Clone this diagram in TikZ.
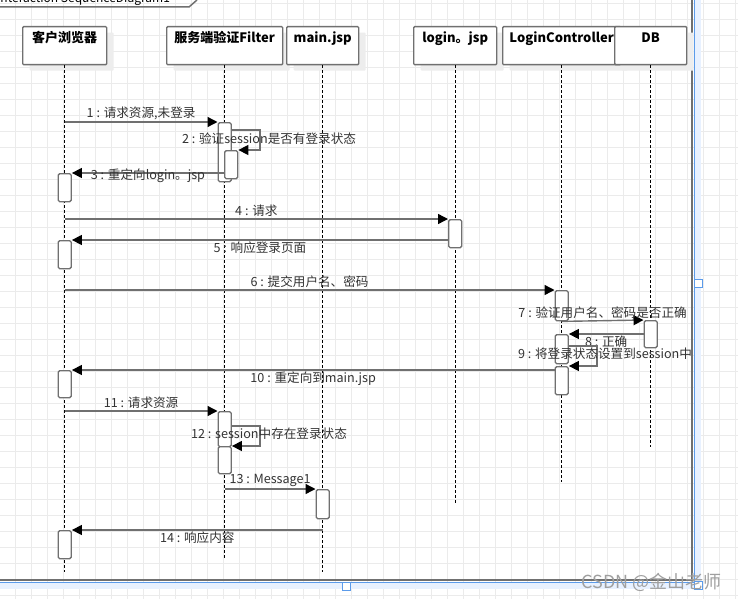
\documentclass[tikz,border=0pt]{standalone}
\usepackage{fontspec}
\setmainfont{Noto Sans CJK SC}
\usetikzlibrary{arrows.meta,shadows}

\definecolor{gridgray}{HTML}{EBEBEB}
\definecolor{boxgray}{HTML}{707070}
\definecolor{labelgray}{HTML}{333333}
\definecolor{selblue}{HTML}{E8F1FF}
\definecolor{handleblue}{HTML}{5B9BEA}

\tikzset{
  obj/.style={draw=boxgray, fill=white, line width=1.4pt, rounded corners=1pt,
    minimum width=#1, anchor=north west, inner sep=0pt,
    text height=16pt, text depth=22pt, font=\bfseries\fontsize{13}{13}\selectfont,
    drop shadow={shadow xshift=7pt, shadow yshift=-6pt, fill=black!7, opacity=1}},
  lifeline/.style={black, line width=0.9pt, dash pattern=on 3pt off 2pt},
  act/.style={draw=boxgray, fill=white, line width=1.4pt, rounded corners=1.5pt,
    minimum width=13pt, minimum height=#1, anchor=north, inner sep=0pt},
  msg/.style={draw=boxgray, line width=1.4pt,
    -{Triangle[length=10pt,width=10pt,color=black]}},
  lbl/.style={text=labelgray, font=\fontsize{12.6}{14}\selectfont, inner sep=1.5pt},
}

\begin{document}
\begin{tikzpicture}[x=1pt, y=-1pt]
		\useasboundingbox (0,0) rectangle (738,599);
		\clip (0,0) rectangle (738,599);
	
		% Draw the grid
		\fill[white] (0,0) rectangle (738,599);
		\draw[gridgray, line width=0.8pt] \foreach \x in {15,31,...,735} {(\x,0) -- (\x,599)};
		\draw[gridgray, line width=0.8pt] \foreach \y in {3,19,...,599} {(0,\y) -- (738,\y)};
	
		% Draw the frame of the interaction
		\fill[selblue] (694,0) rectangle (701,589);
		\fill[selblue] (0,582) rectangle (701,589);
		\draw[handleblue, line width=0.8pt] (694,0) -- (694,582) -- (0,582);
		\draw[boxgray, line width=2.2pt] (692,0) -- (692,580) -- (0,580);
		\draw[boxgray, line width=1.5pt] (0,7) -- (189,7) -- (197,0);
		\node[anchor=base west, font=\fontsize{12}{14}\selectfont, inner sep=0pt] (frametitle) at (-3,3) {interaction SequenceDiagram1};
	
		% Draw the objects
		\node[obj=84pt] (client) at (22,26) {客户浏览器};
		\node[obj=116pt] (filter) at (166,26) {服务端验证Filter};
		\node[obj=72pt] (mainjsp) at (286,26) {main.jsp};
		\node[obj=83pt] (login) at (413,26) {login。jsp};
		\node[obj=118pt] (ctrl) at (502,26) {LoginController};
		\node[obj=72pt] (db) at (614,26) {DB};
	
		% Draw the lifelines
		\foreach \n/\e in {client/572, filter/560, mainjsp/572, login/505, ctrl/482, db/447}
			\draw[lifeline] (\n.south) -- (\n.south |- 0,\e);
	
		% Draw the activations
		\node[act=59pt] (fa1) at (filter.south |- 0,122) {};
		\node[act=28pt, xshift=6.5pt] (fa2) at (filter.south |- 0,150) {};
		\node[act=28pt] (cl1) at (client.south |- 0,173) {};
		\node[act=28pt] (la1) at (login.south |- 0,219) {};
		\node[act=28pt] (cl2) at (client.south |- 0,240) {};
		\node[act=30pt] (ka1) at (ctrl.south |- 0,290) {};
		\node[act=27pt] (da1) at (db.south |- 0,320) {};
		\node[act=29pt] (ka2) at (ctrl.south |- 0,334) {};
		\node[act=28pt] (ka3) at (ctrl.south |- 0,366) {};
		\node[act=27pt] (cl3) at (client.south |- 0,370) {};
		\node[act=35pt] (fa3) at (filter.south |- 0,411) {};
		\node[act=27pt] (fa4) at (filter.south |- 0,446) {};
		\node[act=29pt] (ma1) at (mainjsp.south |- 0,489) {};
		\node[act=28pt] (cl4) at (client.south |- 0,530) {};
	
		% Turning points of the self messages
		\coordinate (turn2) at (260,130);
		\coordinate (turn9) at (597,346);
		\coordinate (turn12) at (260,426);
	
		% Draw the messages
		\draw[msg] (client.south |- fa1.north) -- node[lbl, above] {1 : 请求资源,未登录} (fa1.north west);
		\draw[msg] (fa1.east |- turn2) -- (turn2) |- (fa2.north east);
		\draw[msg] (fa2.west |- cl1.north) -- node[lbl, yshift=-3pt] {3 : 重定向login。jsp} (cl1.north east);
		\draw[msg] (client.south |- la1.north) -- node[lbl, above] {4 : 请求} (la1.north west);
		\draw[msg] (la1.west |- cl2.north) -- node[lbl, below] {5 : 响应登录页面} (cl2.north east);
		\draw[msg] (client.south |- ka1.north) -- node[lbl, above] {6 : 提交用户名、密码} (ka1.north west);
		\draw[msg] (ka1.south) -- node[lbl, above] {7 : 验证用户名、密码是否正确} (da1.north west);
		\draw[msg] (da1.west |- ka2.north) -- node[lbl, below] {8 : 正确} (ka2.north east);
		\draw[msg] (ka2.east |- turn9) -- (turn9) |- (ka3.north east);
		\draw[msg] (ka3.west |- cl3.north) -- node[lbl, below] {10 : 重定向到main.jsp} (cl3.north east);
		\draw[msg] (client.south |- fa3.north) -- node[lbl, above] {11 : 请求资源} (fa3.north west);
		\draw[msg] (fa3.east |- turn12) -- (turn12) |- (fa4.north east);
		\draw[msg] (filter.south |- ma1.north) -- node[lbl, above] {13 : Message1} (ma1.north west);
		\draw[msg] (mainjsp.south |- cl4.north) -- node[lbl, below] {14 : 响应内容} (cl4.north east);
	
		% Labels of the self messages
		\node[lbl] (note2) at (269,139) {2 : 验证session是否有登录状态};
		\node[lbl] (note9) at (605,354) {9 : 将登录状态设置到session中};
		\node[lbl] (note12) at (269,434) {12 : session中存在登录状态};
	
		% Draw the handles and the watermark
		\foreach \hx/\hy in {694/279, 342/582, 694/581}
			\draw[handleblue, fill=white, line width=0.8pt] (\hx,\hy) rectangle ++(8,8);
		\node[anchor=base east, text=gray!75, font=\fontsize{18}{18}\selectfont, inner sep=0pt] (mark) at (722,588) {CSDN @金山老师};
	
	\end{tikzpicture}
\end{document}
